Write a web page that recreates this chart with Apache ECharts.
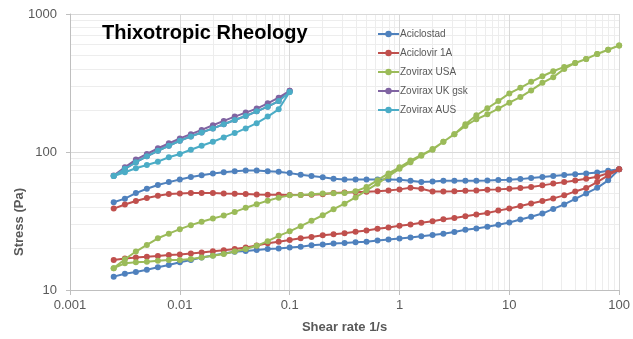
<!DOCTYPE html>
<html><head><meta charset="utf-8">
<script src="https://cdn.jsdelivr.net/npm/echarts@6/dist/echarts.min.js"></script>
<style>html,body{margin:0;padding:0;background:#fff}#c{width:633px;height:339px}</style>
</head><body><div id="c"></div>
<script>
// Shear rate (1/s), 10 points per decade
const shearRates = [0.0025,0.00316,0.00398,0.00501,0.00631,0.00794,0.01,0.0126,0.0158,0.02,0.0251,0.0316,0.0398,0.0501,0.0631,0.0794,0.1,
  0.126,0.158,0.2,0.251,0.316,0.398,0.501,0.631,0.794,1,1.26,1.58,2,2.51,3.16,3.98,5.01,6.31,7.94,10,
  12.6,15.8,20,25.1,31.6,39.8,50.1,63.1,79.4,100];

// Stress (Pa) — each sample: one sweep up to max rate, one sweep back down
const aciclostadA = [12.5,13.1,13.5,14.0,14.6,15.2,15.9,16.5,17.2,17.8,18.4,18.9,19.2,19.5,19.8,20.0,20.3,
  20.6,21.1,21.4,21.7,21.9,22.2,22.4,22.8,23.2,23.6,24.0,24.5,25.0,25.6,26.3,
  27.3,27.9,28.7,29.7,30.8,32.4,33.9,35.8,38.7,41.7,45.7,50.1,55.0,62.3,74.9];
const aciclostadB = [43.2,45.9,50.4,54.2,57.6,60.5,63.2,65.8,67.9,69.8,71.4,72.6,73.3,73.3,72.6,71.8,70.3,
  68.3,66.9,65.5,63.9,63.2,63.2,63.2,63.2,63.2,63.0,62.0,60.6,61.2,61.9,61.9,
  61.9,61.9,62.2,62.6,62.9,63.6,64.7,65.8,66.9,68.0,69.1,69.8,71.0,73.0,74.9];
const aciclovirA = [16.5,16.9,17.2,17.4,17.6,17.9,18.1,18.4,18.7,19.1,19.4,19.8,20.3,21.0,21.8,22.4,23.0,
  23.7,24.2,24.9,25.4,25.8,26.4,27.0,27.8,28.4,29.2,29.8,30.7,31.5,32.6,33.3,
  34.2,35.2,36.2,37.6,38.9,40.6,42.3,44.2,46.1,48.5,51.8,54.8,60.5,67.6,74.9];
const aciclovirB = [38.9,41.6,44.2,46.4,48.2,49.6,50.1,50.5,50.5,50.5,50.1,49.9,49.6,49.3,49.1,49.1,48.8,
  48.8,49.1,49.5,50.5,50.8,51.0,51.5,52.0,52.7,53.6,55.0,54.1,51.8,51.8,52.0,
  52.4,52.7,53.3,53.6,54.1,54.8,55.8,57.3,59.0,60.5,62.2,63.9,66.1,70.3,74.9];
const zoviraxUsaA = [14.4,15.6,15.9,16.0,16.3,16.5,16.5,16.8,17.2,17.7,18.2,19.0,19.8,20.9,22.6,24.7,26.6,
  29.0,31.7,34.8,38.5,42.2,46.9,52.7,58.9,66.9,75.5,84.3,94.0,103.9,118.6,134.7,
  159,184.6,207.5,233.9,265.7,291.9,322.6,354.0,384.6,413.6,441.9,472.3,512.9,550.8,591.3];
const zoviraxUsaB = [14.4,16.7,19.0,21.2,23.7,25.6,27.6,29.5,31.2,33.0,34.6,36.8,39.4,41.8,44.4,46.7,48.5,
  48.8,49.5,50.0,50.2,50.5,52.0,55.7,62.5,70.0,77.5,86.6,95.1,105.1,118.6,134.7,
  154.6,172.7,187.6,206.3,227.8,249.9,279.3,317.0,348.3,400,441.9,472.3,512.9,550.8,591.3];
const zoviraxUkA = [67.6,77.6,88.1,96.8,106.4,115.5,125.5,134.7,144.6,156.3,167.9,180.6,193.0,206.3,225.2,247.4,278];
const zoviraxUkB = [66.9,75.5,84.3,93.1,102.1,111.0,120.6,129.7,138.6,148.2,159.0,170.7,182.4,197.2,213.2,233.9,278];
const zoviraxAusA = [66.9,75.5,84.3,93.1,102.1,111.0,120.6,129.7,138.6,148.2,159.0,170.7,182.4,197.2,213.2,233.9,272];
const zoviraxAusB = [66.9,71.4,76.3,80.6,85.1,91.6,96.8,103.9,111.0,118.6,127.6,137.1,148.2,161.8,180.6,203.9,272];

const seriesNames = ['Aciclostad','Aciclovir 1A','Zovirax USA','Zovirax UK gsk','Zovirax AUS'];
const seriesColors = ['#4f81bd','#c0504d','#9bbb59','#8064a2','#4bacc6'];
const xTickLabels = ['0.001','0.01','0.1','1','10','100'];
const yTickLabels = ['10','100','1000'];
const xMinorGrid = [0.002,0.003,0.004,0.005,0.006,0.007,0.008,0.009,0.02,0.03,0.04,0.05,0.06,0.07,0.08,0.09,
  0.2,0.3,0.4,0.5,0.6,0.7,0.8,0.9,2,3,4,5,6,7,8,9,20,30,40,50,60,70,80,90];
const yMinorGrid = [20,30,40,50,60,70,80,90,200,300,400,500,600,700,800,900];

function loop(up, down) {
  const pts = [];
  for (let i = 0; i < up.length; i++) pts.push([shearRates[i], up[i]]);
  for (let i = down.length - 1; i >= 0; i--) pts.push([shearRates[i], down[i]]);
  return pts;
}
const loops = [
  loop(aciclostadA, aciclostadB),
  loop(aciclovirA, aciclovirB),
  loop(zoviraxUsaA, zoviraxUsaB),
  loop(zoviraxUkA, zoviraxUkB),
  loop(zoviraxAusA, zoviraxAusB)
];

const FONT = 'Liberation Sans, Arial, sans-serif';
const fmt = v => String(+(+v).toPrecision(6));

const series = [{
  type: 'line', name: '_grid', data: [[0.001, 10]], symbol: 'none', silent: true, z: 0, zlevel: 0,
  lineStyle: { opacity: 0 }, legendHoverLink: false,
  markLine: {
    silent: true, symbol: ['none','none'], animation: false, z: 0, zlevel: 0,
    label: { show: false },
    lineStyle: { color: '#ededed', width: 1, type: 'solid' },
    emphasis: { disabled: true },
    data: xMinorGrid.map(v => ({ xAxis: v })).concat(yMinorGrid.map(v => ({ yAxis: v })))
  }
}];
loops.forEach((d, i) => {
  series.push({
    type: 'line', name: seriesNames[i], data: d, z: 3 + i,
    symbol: 'circle', symbolSize: 6, showSymbol: true, showAllSymbol: true,
    itemStyle: { color: seriesColors[i] },
    lineStyle: { color: seriesColors[i], width: 2 },
    animation: false
  });
});

const chart = echarts.init(document.getElementById('c'), null, { renderer: 'canvas' });
chart.setOption({
  backgroundColor: '#ffffff',
  animation: false,
  grid: { left: 70, right: 11, top: 14, bottom: 47, containLabel: false, z: 0 },
  legend: {
    data: seriesNames, orient: 'vertical', left: 372, top: 23, z: 10,
    itemWidth: 21, itemHeight: 8, itemGap: 7,
    textStyle: { color: '#595959', fontSize: 10, fontFamily: 'Liberation Sans Narrow, Liberation Sans, Arial', lineHeight: 12, padding: [0,0,0,-4] }
  },
  graphic: [
    { type: 'text', left: 102, top: 23, z: 10, style: { text: 'Thixotropic Rheology', font: 'bold 20px Liberation Sans, Arial', fill: '#000' } },
    { type: 'text', x: 19, y: 222, rotation: Math.PI / 2,
      style: { text: 'Stress (Pa)', font: 'bold 13px Liberation Sans, Arial', fill: '#595959', align: 'center', verticalAlign: 'middle' } }
  ],
  xAxis: {
    type: 'log', logBase: 10, min: 0.001, max: 100, splitNumber: 5, z: 1,
    name: 'Shear rate 1/s', nameLocation: 'middle', nameGap: 31,
    nameTextStyle: { color: '#595959', fontSize: 13, fontWeight: 'bold', fontFamily: FONT },
    axisLine: { show: true, lineStyle: { color: '#bfbfbf', width: 1 } },
    axisTick: { show: true, length: 5, lineStyle: { color: '#bfbfbf' } },
    axisLabel: { color: '#595959', fontSize: 13, fontFamily: FONT, margin: 9,
      formatter: v => { const s = fmt(v); return xTickLabels.indexOf(s) >= 0 ? s : ''; } },
    splitLine: { show: true, lineStyle: { color: '#d9d9d9', width: 1 } }
  },
  yAxis: {
    type: 'log', logBase: 10, min: 10, max: 1000, splitNumber: 2, z: 1,
    axisLine: { show: true, lineStyle: { color: '#bfbfbf', width: 1 } },
    axisTick: { show: true, length: 4, lineStyle: { color: '#bfbfbf' } },
    axisLabel: { color: '#595959', fontSize: 13, fontFamily: FONT, margin: 13,
      formatter: v => { const s = fmt(v); return yTickLabels.indexOf(s) >= 0 ? s : ''; } },
    splitLine: { show: true, lineStyle: { color: '#d9d9d9', width: 1 } }
  },
  series: series
});
</script>
</body></html>
